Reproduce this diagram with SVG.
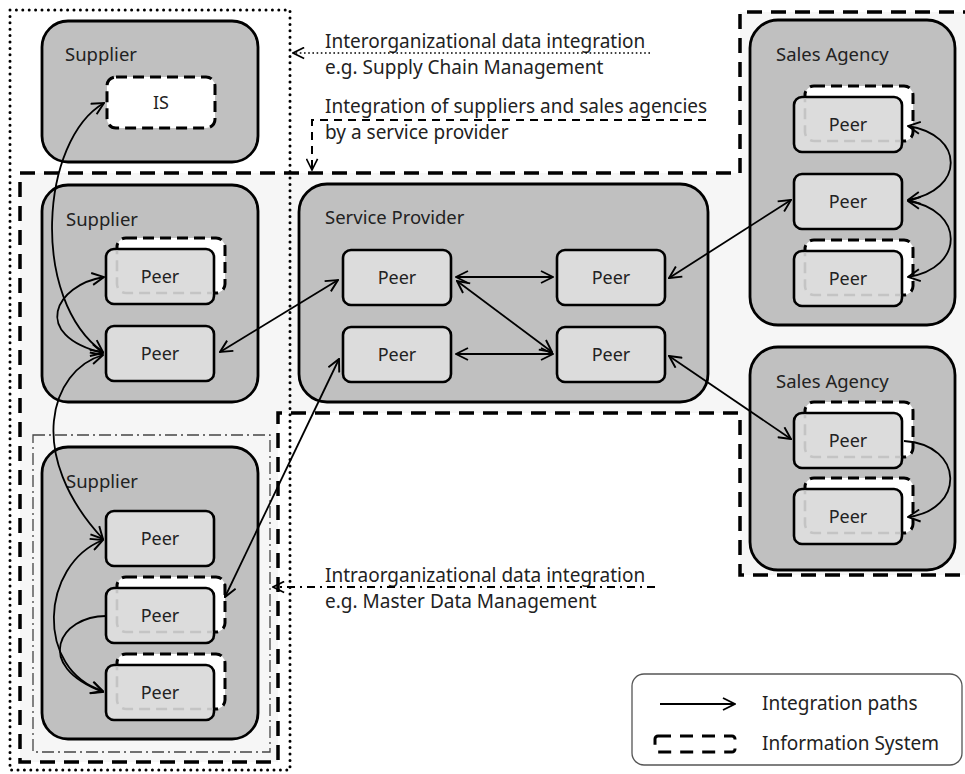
<svg xmlns="http://www.w3.org/2000/svg" xmlns:xlink="http://www.w3.org/1999/xlink" width="965" height="774" viewBox="0 0 965 774">
  <style>
    text { font-family: "Noto Sans", "Open Sans", "DejaVu Sans", sans-serif; fill: #222; }
    .lbl { font-size: 18.5px; }
    .pt { font-size: 18px; text-anchor: middle; }
    .org { fill: #c0c0c0; stroke: #000; stroke-width: 2.8; }
    .peer { fill: #dcdcdc; stroke: #000; stroke-width: 2.6; }
    .is { fill: #fff; stroke: #000; stroke-width: 3; stroke-dasharray: 11 6; }
    .isGhost { fill: none; stroke: #c4c4c4; stroke-width: 2.6; stroke-dasharray: 11 6; }
    .link { fill: none; stroke: #000; stroke-width: 1.8; marker-end: url(#arr); }
    .bi { marker-start: url(#arr); }
    .note { font-size: 19px; }
  </style>
  <defs>
    <marker id="arr" viewBox="0 0 14 14" refX="13" refY="7" markerWidth="14" markerHeight="14" markerUnits="userSpaceOnUse" orient="auto-start-reverse">
      <path d="M1,1 L13,7 L1,13" fill="none" stroke="#000" stroke-width="1.9" stroke-linejoin="miter"/>
    </marker>
    <marker id="arrThin" viewBox="0 0 14 14" refX="13" refY="7" markerWidth="13" markerHeight="13" markerUnits="userSpaceOnUse" orient="auto-start-reverse">
      <path d="M1,1 L13,7 L1,13" fill="none" stroke="#000" stroke-width="1.8"/>
    </marker>
    <clipPath id="peerClip">
      <rect x="1.5" y="1.5" width="105" height="52" rx="7"/>
    </clipPath>
    <!-- plain peer box -->
    <rect id="peerBox" class="peer" x="0" y="0" width="108" height="55" rx="8"/>
    <!-- peer box with an information system behind it -->
    <g id="peerIS">
      <rect class="is" x="11" y="-11" width="108" height="55" rx="9"/>
      <rect class="peer" x="0" y="0" width="108" height="55" rx="8"/>
      <rect class="isGhost" x="11" y="-11" width="108" height="55" rx="9" clip-path="url(#peerClip)"/>
    </g>
  </defs>

  <rect width="965" height="774" fill="#fff"/>

  <!-- boundaries -->
  <g id="boundaries">
    <path d="M20,173 L740,173 L740,12 L968,12 L968,575 L740,575 L740,413 L278,413 L278,762 L20,762 Z" fill="#f6f6f6" stroke="#000" stroke-width="3.5" stroke-dasharray="15 9"/>
    <rect x="10" y="10" width="280" height="760" fill="none" stroke="#000" stroke-width="3" stroke-linecap="round" stroke-dasharray="0 6.4"/>
    <rect x="33" y="435" width="237" height="317" fill="none" stroke="#444" stroke-width="1.3" stroke-dasharray="12 4 2 4"/>
  </g>

  <!-- top supplier -->
  <g id="supplier-top">
    <rect class="org" x="42" y="21" width="216" height="141" rx="26"/>
    <text class="lbl" x="65" y="61">Supplier</text>
    <g id="supplier-top-is">
      <rect class="is" x="107" y="77" width="108" height="51" rx="9"/>
      <text class="pt" x="161" y="109">IS</text>
    </g>
  </g>

  <!-- middle supplier -->
  <g id="supplier-mid">
    <rect class="org" x="42" y="185" width="216" height="217" rx="26"/>
    <text class="lbl" x="66" y="226">Supplier</text>
  </g>
  <g id="supplier-mid-peer1" transform="translate(106,249)">
    <use xlink:href="#peerIS"/>
    <text class="pt" x="54" y="34">Peer</text>
  </g>
  <g id="supplier-mid-peer2" transform="translate(106,326)">
    <use xlink:href="#peerBox"/>
    <text class="pt" x="54" y="34">Peer</text>
  </g>

  <!-- bottom supplier -->
  <g id="supplier-bot">
    <rect class="org" x="42" y="447" width="216" height="292" rx="26"/>
    <text class="lbl" x="66" y="488">Supplier</text>
  </g>
  <g id="supplier-bot-peer1" transform="translate(106,511)">
    <use xlink:href="#peerBox"/>
    <text class="pt" x="54" y="34">Peer</text>
  </g>
  <g id="supplier-bot-peer2" transform="translate(106,588)">
    <use xlink:href="#peerIS"/>
    <text class="pt" x="54" y="34">Peer</text>
  </g>
  <g id="supplier-bot-peer3" transform="translate(106,665)">
    <use xlink:href="#peerIS"/>
    <text class="pt" x="54" y="34">Peer</text>
  </g>

  <!-- service provider -->
  <g id="service-provider">
    <rect class="org" x="299" y="184" width="409" height="218" rx="28"/>
    <text class="lbl" x="325" y="224">Service Provider</text>
  </g>
  <g id="sp-peer1" transform="translate(343,250)">
    <use xlink:href="#peerBox"/>
    <text class="pt" x="54" y="34">Peer</text>
  </g>
  <g id="sp-peer2" transform="translate(343,327)">
    <use xlink:href="#peerBox"/>
    <text class="pt" x="54" y="34">Peer</text>
  </g>
  <g id="sp-peer3" transform="translate(557,250)">
    <use xlink:href="#peerBox"/>
    <text class="pt" x="54" y="34">Peer</text>
  </g>
  <g id="sp-peer4" transform="translate(557,327)">
    <use xlink:href="#peerBox"/>
    <text class="pt" x="54" y="34">Peer</text>
  </g>

  <!-- sales agency, top -->
  <g id="sales-top">
    <rect class="org" x="750" y="20" width="205" height="305" rx="28"/>
    <text class="lbl" x="776" y="61">Sales Agency</text>
  </g>
  <g id="sa-top-peer1" transform="translate(794,97)">
    <use xlink:href="#peerIS"/>
    <text class="pt" x="54" y="34">Peer</text>
  </g>
  <g id="sa-top-peer2" transform="translate(794,174)">
    <use xlink:href="#peerBox"/>
    <text class="pt" x="54" y="34">Peer</text>
  </g>
  <g id="sa-top-peer3" transform="translate(794,251)">
    <use xlink:href="#peerIS"/>
    <text class="pt" x="54" y="34">Peer</text>
  </g>

  <!-- sales agency, bottom -->
  <g id="sales-bot">
    <rect class="org" x="750" y="347" width="205" height="223" rx="28"/>
    <text class="lbl" x="776" y="388">Sales Agency</text>
  </g>
  <g id="sa-bot-peer1" transform="translate(794,413)">
    <use xlink:href="#peerIS"/>
    <text class="pt" x="54" y="34">Peer</text>
  </g>
  <g id="sa-bot-peer2" transform="translate(794,489)">
    <use xlink:href="#peerIS"/>
    <text class="pt" x="54" y="34">Peer</text>
  </g>

  <!-- integration paths -->
  <g id="connectors">
    <path class="link bi" d="M104,103 C40,140 30,300 103,352"/>
    <path class="link bi" d="M104,277 C55,285 30,335 103,353"/>
    <path class="link bi" d="M103,355 C50,370 25,455 103,539"/>
    <path class="link bi" d="M103,540 C40,565 35,670 103,691"/>
    <path class="link" d="M106,616 C60,616 32,665 103,692"/>
    <path class="link bi" d="M220,352 L338,280"/>
    <path class="link bi" d="M225,597 L339,359"/>
    <path class="link bi" d="M456,277 L553,277"/>
    <path class="link bi" d="M457,281 L552,352"/>
    <path class="link bi" d="M456,354 L553,354"/>
    <path class="link bi" d="M669,278 L791,200"/>
    <path class="link bi" d="M669,356 L791,439"/>
    <path class="link bi" d="M908,126 C965,135 965,190 908,200"/>
    <path class="link bi" d="M908,201 C965,210 965,268 908,277"/>
    <path class="link" d="M904,441 C965,445 965,510 908,517"/>
  </g>

  <!-- annotations -->
  <g id="note-inter">
    <text class="note" x="325" y="48">Interorganizational data integration</text>
    <text class="note" x="325" y="74">e.g. Supply Chain Management</text>
    <path d="M650,53 L293,53" fill="none" stroke="#000" stroke-width="1.6" stroke-dasharray="1.6 2.6" marker-end="url(#arrThin)"/>
  </g>
  <g id="note-service">
    <text class="note" x="325" y="113">Integration of suppliers and sales agencies</text>
    <text class="note" x="325" y="139">by a service provider</text>
    <path d="M706,120 L312,120 L312,170" fill="none" stroke="#000" stroke-width="2" stroke-dasharray="8 6" marker-end="url(#arrThin)"/>
  </g>
  <g id="note-intra">
    <text class="note" x="325" y="582">Intraorganizational data integration</text>
    <text class="note" x="325" y="608">e.g. Master Data Management</text>
    <path d="M655,587 L273,587" fill="none" stroke="#000" stroke-width="2" stroke-dasharray="8 5 2 5" marker-end="url(#arrThin)"/>
  </g>

  <!-- legend -->
  <g id="legend">
    <rect x="632" y="674" width="330" height="91" rx="12" fill="#fff" stroke="#555" stroke-width="1.3"/>
    <path class="link" d="M660,704 L735,704"/>
    <text class="note" x="762" y="710">Integration paths</text>
    <rect x="655" y="736" width="80" height="16" rx="3" fill="none" stroke="#000" stroke-width="3" stroke-dasharray="13 9"/>
    <text class="note" x="762" y="750">Information System</text>
  </g>
</svg>
